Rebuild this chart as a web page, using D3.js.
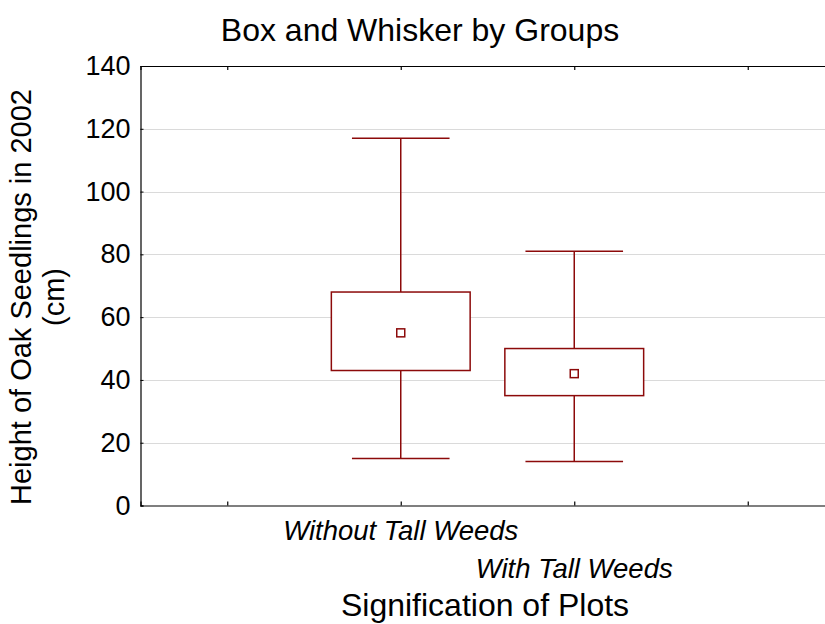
<!DOCTYPE html>
<html>
<head>
<meta charset="utf-8">
<script src="https://cdn.jsdelivr.net/npm/d3@7"></script>
<style>
  html, body { margin: 0; padding: 0; background: #fff; }
  svg { display: block; font-family: "Liberation Sans", Arial, sans-serif; }
</style>
</head>
<body>
<svg id="chart" width="825" height="624"></svg>
<script>
// ---- data ----
const categories = ["Without Tall Weeds", "With Tall Weeds"];
const categoryPositions = [2, 3];
const means = [55, 42];
const boxLow = [43, 35];
const boxHigh = [68, 50];
const whiskerLow = [15, 14];
const whiskerHigh = [117, 81];
const yTicks = [0, 20, 40, 60, 80, 100, 120, 140];
const xTicks = [1, 2, 3, 4, 5];

const chartTitle = "Box and Whisker by Groups";
const xTitle = "Signification of Plots";
const yTitleLines = ["Height of Oak Seedlings in 2002", "(cm)"];

(function () {
// ---- layout ----
const svg = d3.select("#chart");
const W = 825;
const pLeft = 140.5, pTop = 66, pBottom = 505.5;
const color = "#8c0a0a";

const x = d3.scaleLinear().domain([0.5, 5.5]).range([pLeft, pLeft + 5 * 173.5]);
const y = d3.scaleLinear().domain([0, 140]).range([pBottom, pTop]);

// gridlines
svg.append("g").selectAll("line")
  .data(yTicks.filter(d => d > 0 && d < 140))
  .join("line")
  .attr("x1", pLeft).attr("x2", W)
  .attr("y1", d => Math.round(y(d)) + 0.5).attr("y2", d => Math.round(y(d)) + 0.5)
  .attr("stroke", "#b4b4b4").attr("stroke-width", 1)
  .attr("stroke-dasharray", "1,1");

// y axis (ticks inward, labels outside)
const yAxis = svg.append("g").attr("transform", `translate(${pLeft},0)`)
  .call(d3.axisLeft(y).tickValues(yTicks).tickSize(-3).tickPadding(10).tickFormat(d3.format("d")));
yAxis.select(".domain").attr("stroke", "#000").attr("stroke-width", 1.2);
yAxis.selectAll(".tick line").attr("stroke", "#000");
yAxis.selectAll(".tick text")
  .attr("font-size", 27).attr("fill", "#000")
  .attr("font-family", "Liberation Sans, Arial, sans-serif");

// bottom axis (ticks inward)
const xAxisB = svg.append("g").attr("transform", `translate(0,${pBottom})`)
  .call(d3.axisBottom(x).tickValues(xTicks).tickSize(-4).tickFormat(""));
xAxisB.select(".domain").attr("stroke", "#000").attr("stroke-width", 1.2);
xAxisB.selectAll(".tick line").attr("stroke", "#000").attr("stroke-width", 1.2);

// top axis (frame)
const xAxisT = svg.append("g").attr("transform", `translate(0,${pTop})`)
  .call(d3.axisTop(x).tickValues(xTicks).tickSize(-4).tickFormat(""));
xAxisT.select(".domain").attr("stroke", "#000").attr("stroke-width", 1.2);
xAxisT.selectAll(".tick line").attr("stroke", "#000").attr("stroke-width", 1.2);

// box plots
const boxW = 0.8, capW = 0.5625, markerSize = 8;
const groups = svg.append("g").selectAll("g")
  .data(categories.map((c, i) => ({
    c, p: categoryPositions[i], mean: means[i], lo: boxLow[i], hi: boxHigh[i],
    wlo: whiskerLow[i], whi: whiskerHigh[i]
  })))
  .join("g")
  .attr("stroke", color).attr("stroke-width", 1.5).attr("fill", "none");

groups.append("line")
  .attr("x1", d => x(d.p)).attr("x2", d => x(d.p))
  .attr("y1", d => y(d.whi)).attr("y2", d => y(d.hi));
groups.append("line")
  .attr("x1", d => x(d.p)).attr("x2", d => x(d.p))
  .attr("y1", d => y(d.lo)).attr("y2", d => y(d.wlo));
groups.append("line")
  .attr("x1", d => x(d.p - capW / 2)).attr("x2", d => x(d.p + capW / 2))
  .attr("y1", d => y(d.whi)).attr("y2", d => y(d.whi));
groups.append("line")
  .attr("x1", d => x(d.p - capW / 2)).attr("x2", d => x(d.p + capW / 2))
  .attr("y1", d => y(d.wlo)).attr("y2", d => y(d.wlo));
groups.append("rect")
  .attr("x", d => x(d.p - boxW / 2))
  .attr("width", d => x(d.p + boxW / 2) - x(d.p - boxW / 2))
  .attr("y", d => y(d.hi))
  .attr("height", d => y(d.lo) - y(d.hi))
  .attr("fill", "#fff");
groups.append("rect")
  .attr("x", d => x(d.p) - markerSize / 2)
  .attr("y", d => y(d.mean) - markerSize / 2)
  .attr("width", markerSize).attr("height", markerSize)
  .attr("fill", "#fff");

// category labels (staggered)
const catBaselines = [540, 578];
svg.append("g").selectAll("text")
  .data(categories)
  .join("text")
  .attr("x", (d, i) => x(categoryPositions[i]))
  .attr("y", (d, i) => catBaselines[i])
  .attr("text-anchor", "middle")
  .attr("font-size", 27.5).attr("font-style", "italic")
  .text(d => d);

// title
svg.append("text")
  .attr("x", 420).attr("y", 41)
  .attr("text-anchor", "middle").attr("font-size", 32)
  .text(chartTitle);

// x title
svg.append("text")
  .attr("x", 485).attr("y", 616)
  .attr("text-anchor", "middle").attr("font-size", 32)
  .text(xTitle);

// y title (two lines, rotated)
const yt = svg.append("text")
  .attr("transform", "translate(31,297) rotate(-90)")
  .attr("text-anchor", "middle").attr("font-size", 29);
yt.selectAll("tspan").data(yTitleLines).join("tspan")
  .attr("x", 0).attr("y", (d, i) => i * 33)
  .text(d => d);
})();
</script>
</body>
</html>
